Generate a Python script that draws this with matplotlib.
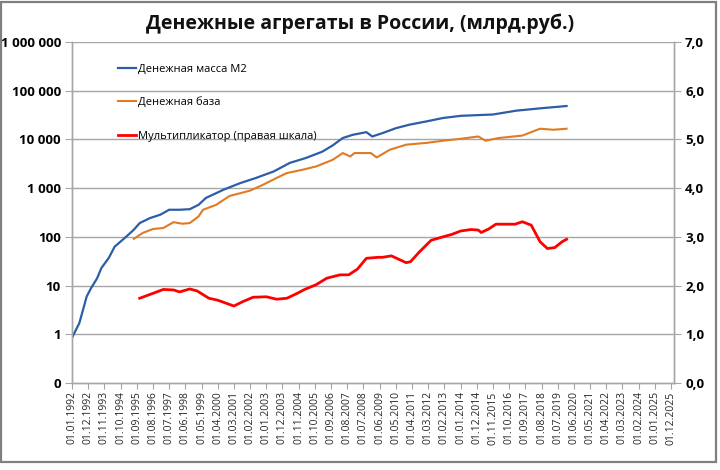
import matplotlib
matplotlib.use("Agg")
import matplotlib.pyplot as plt
from matplotlib.patches import Rectangle
from matplotlib.ticker import FixedLocator, FixedFormatter, NullLocator

plt.rcParams['font.family'] = ['Open Sans', 'DejaVu Sans']

# ---- data ----
m2_dates = ["1992-01", "1992-06", "1992-11", "1993-02", "1993-06", "1993-09", "1994-02",
            "1994-06", "1994-10", "1995-02", "1995-07", "1995-11", "1996-06", "1997-01",
            "1997-07", "1998-02", "1998-09", "1999-03", "1999-08", "2000-08", "2001-07",
            "2002-06", "2003-06", "2004-05", "2005-04", "2006-03", "2006-10", "2007-05",
            "2007-12", "2008-09", "2009-01", "2009-08", "2010-05", "2011-02", "2012-02",
            "2013-01", "2014-01", "2015-11", "2017-03", "2018-09", "2020-01"]
m2_values = [0.85, 1.7, 6.0, 8.9, 14, 23, 37, 63, 80, 102, 140, 192, 243, 285, 360, 360,
             370, 455, 630, 930, 1260, 1620, 2200, 3300, 4170, 5600, 7500, 10700, 12500,
             14100, 11500, 13500, 17000, 20000, 23500, 27500, 30500, 32500, 39000, 44000,
             48500]

base_dates = ["1995-07", "1996-01", "1996-08", "1997-03", "1997-10", "1998-04", "1998-09",
              "1999-03", "1999-06", "2000-03", "2000-12", "2002-02", "2002-11", "2003-08",
              "2004-03", "2005-02", "2005-11", "2006-10", "2007-05", "2007-10", "2008-01",
              "2008-12", "2009-04", "2010-01", "2010-12", "2012-02", "2013-01", "2014-01",
              "2015-01", "2015-06", "2016-03", "2017-07", "2018-07", "2019-04", "2020-01"]
base_values = [91, 120, 145, 152, 200, 186, 192, 263, 360, 455, 690, 890, 1180, 1620, 2040,
               2400, 2800, 3800, 5250, 4470, 5250, 5250, 4270, 6150, 7800, 8500, 9400, 10300,
               11500, 9400, 10700, 12000, 16600, 15800, 16600]

mult_dates = ["1995-11", "1996-08", "1997-03", "1997-10", "1998-02", "1998-09", "1999-02",
              "1999-10", "2000-04", "2001-03", "2001-09", "2002-04", "2003-01", "2003-08",
              "2004-03", "2004-10", "2005-03", "2005-11", "2006-06", "2007-03", "2007-09",
              "2008-03", "2008-09", "2009-05", "2009-08", "2010-02", "2010-12", "2011-03",
              "2011-09", "2012-05", "2013-01", "2013-07", "2014-01", "2014-08", "2015-01",
              "2015-03", "2015-08", "2016-01", "2016-08", "2017-02", "2017-07", "2018-01",
              "2018-07", "2018-12", "2019-05", "2019-10", "2020-01"]
mult_values = [1.74, 1.84, 1.92, 1.91, 1.87, 1.93, 1.89, 1.74, 1.70, 1.58, 1.67, 1.76, 1.77,
               1.72, 1.74, 1.84, 1.92, 2.02, 2.15, 2.22, 2.22, 2.34, 2.56, 2.58, 2.58, 2.61,
               2.47, 2.49, 2.69, 2.93, 3.00, 3.05, 3.12, 3.15, 3.14, 3.09, 3.16, 3.26, 3.26,
               3.26, 3.31, 3.24, 2.90, 2.76, 2.78, 2.90, 2.95]

start_year = 1992
n_months = 410          # category axis 01.1992 ... 02.2026
label_step = 11         # one label every 11 months

left_ticks = [0.1, 1, 10, 100, 1000, 10000, 100000, 1000000]
left_labels = ["0", "1", "10", "100", "1 000", "10 000", "100 000", "1 000 000"]
right_ticks = [0, 1, 2, 3, 4, 5, 6, 7]
right_labels = ["0,0", "1,0", "2,0", "3,0", "4,0", "5,0", "6,0", "7,0"]

title = "Денежные агрегаты в России, (млрд.руб.)"
names = ["Денежная масса М2", "Денежная база", "Мультипликатор (правая шкала)"]
colors = ["#2B5DA8", "#E07B24", "#FF0000"]


def to_idx(s):
    y, m = s.split("-")
    return (int(y) - start_year) * 12 + int(m) - 1


# ---- figure ----
fig = plt.figure(figsize=(7.2, 4.7), dpi=100)
fig.patches.append(Rectangle((0.002, 0.018), 0.993, 0.978, transform=fig.transFigure,
                             fill=False, edgecolor="#7F7F7F", linewidth=1.6))

ax = fig.add_axes([72 / 720, 1 - 383 / 470, 602 / 720, 341 / 470])
ax2 = ax.twinx()

ax.set_yscale("log")
ax.set_ylim(0.1, 1e6)
ax.set_xlim(0, n_months - 1)
ax2.set_ylim(0, 7)

gray = "#A6A6A6"
for t in left_ticks[1:]:
    ax.axhline(t, color=gray, linewidth=1.0, zorder=0)

l1, = ax.plot([to_idx(d) for d in m2_dates], m2_values, color=colors[0], lw=1.6, zorder=3)
l2, = ax.plot([to_idx(d) for d in base_dates], base_values, color=colors[1], lw=1.5, zorder=3)
l3, = ax2.plot([to_idx(d) for d in mult_dates], mult_values, color=colors[2], lw=2.0, zorder=3)

# axes styling
for a in (ax, ax2):
    a.spines["top"].set_visible(False)
    for side in ("left", "right", "bottom"):
        a.spines[side].set_color(gray)
        a.spines[side].set_linewidth(1.0)

ax.yaxis.set_major_locator(FixedLocator(left_ticks))
ax.yaxis.set_major_formatter(FixedFormatter(left_labels))
ax.yaxis.set_minor_locator(NullLocator())
ax.tick_params(axis="y", which="major", length=5, color=gray, labelsize=9.5, pad=3)
for lab in ax.get_yticklabels():
    lab.set_fontweight("bold")

ax2.yaxis.set_major_locator(FixedLocator(right_ticks))
ax2.yaxis.set_major_formatter(FixedFormatter(right_labels))
ax2.tick_params(axis="y", length=5, color=gray, labelsize=9.5, pad=3)
for lab in ax2.get_yticklabels():
    lab.set_fontweight("bold")

xt = list(range(0, n_months, label_step))
xl = []
for i in xt:
    yy = start_year + i // 12
    mm = i % 12 + 1
    xl.append("01.%02d.%d" % (mm, yy))
ax.set_xticks(xt)
ax.set_xticklabels(xl, rotation=90, fontsize=7.5, color="#262626")
ax.tick_params(axis="x", length=4, color=gray, pad=2)
ax.xaxis.set_minor_locator(NullLocator())

ax.legend([l1, l2, l3], names, loc="upper left", bbox_to_anchor=(0.076, 0.935),
          frameon=False, fontsize=8, labelspacing=2.0, handlelength=1.6,
          handletextpad=0.2, borderpad=0, borderaxespad=0)

fig.text(0.5, 1 - 24 / 470, title, ha="center", va="center", fontsize=14,
         fontweight="bold", color="#111111")

fig.savefig("out.png", dpi=100)
